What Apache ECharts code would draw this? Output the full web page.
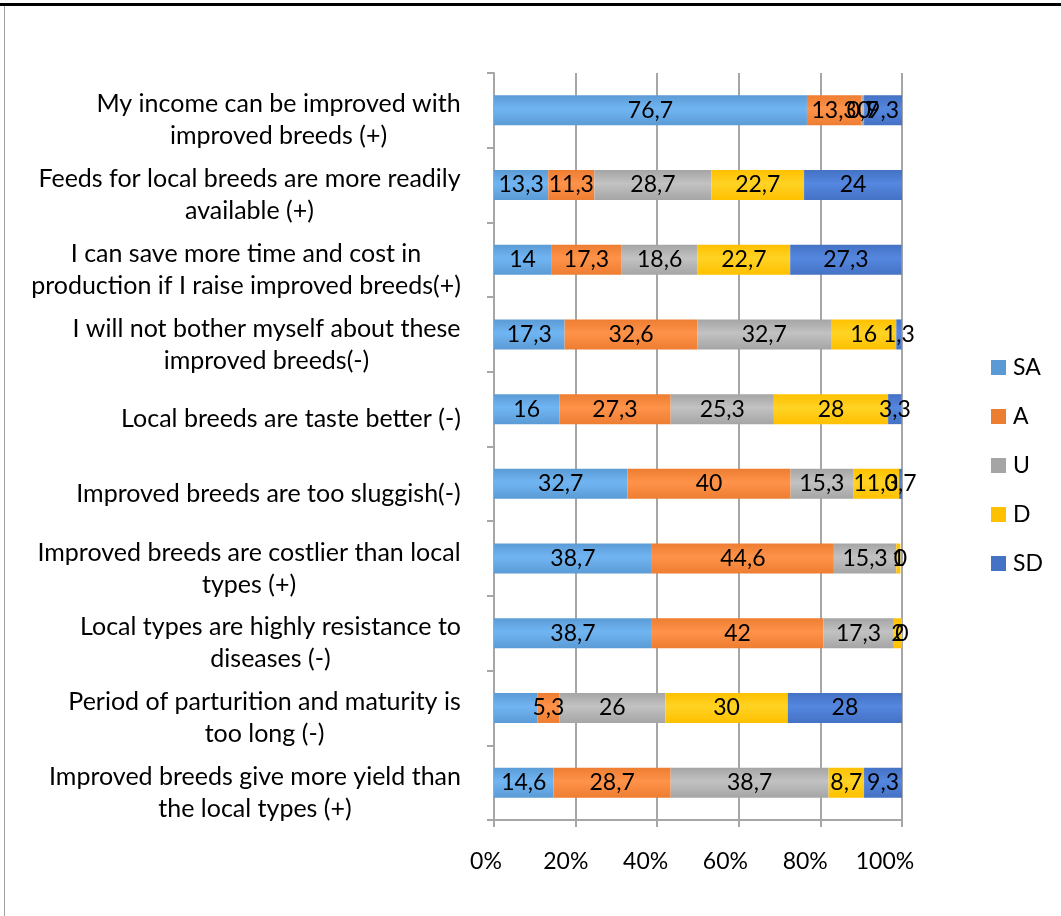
<!DOCTYPE html>
<html>
<head>
<meta charset="utf-8">
<script src="https://cdn.jsdelivr.net/npm/echarts@6/dist/echarts.min.js"></script>
<style>
  html, body { margin: 0; padding: 0; background: #fff; }
  #chart { width: 1061px; height: 916px; }
</style>
</head>
<body>
<div id="chart"></div>
<script>
// categories, top to bottom
var categories = [
  "My income can be improved with\nimproved breeds (+)",
  "Feeds for local breeds are more readily\navailable (+)",
  "I can save more time and cost in\nproduction if I raise improved breeds(+)",
  "I will not bother myself about these\nimproved breeds(-)",
  "Local breeds are taste better (-)",
  "Improved breeds are too sluggish(-)",
  "Improved breeds are costlier than local\ntypes (+)",
  "Local types are highly resistance to\ndiseases (-)",
  "Period of parturition and maturity is\ntoo long (-)",
  "Improved breeds give more yield than\nthe local types (+)"
];
var seriesNames = ["SA", "A", "U", "D", "SD"];
var SA = [76.7, 13.3, 14, 17.3, 16, 32.7, 38.7, 38.7, 10.7, 14.6];
var A  = [13.3, 11.3, 17.3, 32.6, 27.3, 40, 44.6, 42, 5.3, 28.7];
var U  = [0.7, 28.7, 18.6, 32.7, 25.3, 15.3, 15.3, 17.3, 26, 38.7];
var D  = [0, 22.7, 22.7, 16, 28, 11.3, 1, 2, 30, 8.7];
var SD = [9.3, 24, 27.3, 1.3, 3.3, 0.7, 0, 0, 28, 9.3];
var xTicks = [0, 20, 40, 60, 80, 100];
// [seriesIndex, categoryIndex] whose label is not printed in the original
var hiddenLabels = [[0, 8]];

var values = [SA, A, U, D, SD];
var baseColors = ["#5B9BD5", "#ED7D31", "#A5A5A5", "#FFC000", "#4472C4"];
var lightColors = ["#70B5F3", "#FF934A", "#C2C2C2", "#FFD324", "#5587E0"];
var FONT = "Lato, 'Open Sans', sans-serif";
var FS = 23;
var CAT_FS = 25;

// measure label blocks so each line can be centred inside a right-aligned block
var ctx = document.createElement("canvas").getContext("2d");
ctx.font = CAT_FS + "px Lato";
var rich = {};
categories.forEach(function (c, i) {
  var w = 0;
  c.split("\n").forEach(function (l) { w = Math.max(w, ctx.measureText(l).width); });
  rich["c" + i] = { width: Math.ceil(w) + 2, align: "center", fontSize: CAT_FS, lineHeight: 32, color: "#000", fontFamily: FONT };
});

// the percent labels sit on the front floor of the 3D chart, a little left of the bars
var tickRich = {};
xTicks.forEach(function (t, i) {
  var shift = 8 + 9 * i / (xTicks.length - 1);
  tickRich["t" + i] = { fontSize: FS, color: "#000", fontFamily: FONT, padding: [0, 2 * shift, 0, 0] };
});

var myChart = echarts.init(document.getElementById("chart"));

var series = seriesNames.map(function (name, s) {
  return {
    name: name,
    type: "bar",
    stack: "total",
    barWidth: 30,
    itemStyle: {
      color: new echarts.graphic.LinearGradient(0, 0, 0, 1, [
        { offset: 0, color: baseColors[s] },
        { offset: 0.45, color: lightColors[s] },
        { offset: 1, color: baseColors[s] }
      ])
    },
    label: {
      show: true,
      position: "inside",
      color: "#000",
      fontSize: FS,
      fontFamily: FONT,
      formatter: function (p) { return String(p.value).replace(".", ","); }
    },
    data: values[s].map(function (v, i) {
      var hide = hiddenLabels.some(function (h) { return h[0] === s && h[1] === i; });
      return hide ? { value: v, label: { show: false } } : v;
    })
  };
});

var option = {
  animation: false,
  textStyle: { fontFamily: FONT },
  grid: { left: 494, right: 159, top: 73, bottom: 96 },
  legend: {
    orient: "vertical",
    left: 986,
    top: 351,
    itemWidth: 15,
    itemHeight: 15,
    itemGap: 26,
    textStyle: { fontSize: FS, color: "#000", fontFamily: FONT, padding: [0, 0, 0, 2] },
    data: seriesNames.map(function (n, s) {
      return { name: n, icon: "rect", itemStyle: { color: baseColors[s] } };
    })
  },
  xAxis: {
    type: "value",
    min: xTicks[0],
    max: xTicks[xTicks.length - 1],
    interval: xTicks[1] - xTicks[0],
    axisLine: { show: true, lineStyle: { color: "#A6A6A6", width: 2 } },
    axisTick: { show: true, length: 7, lineStyle: { color: "#A6A6A6", width: 2 } },
    splitLine: { show: true, lineStyle: { color: "#A6A6A6", width: 2 } },
    axisLabel: {
      margin: 30,
      fontFamily: FONT,
      formatter: function (v) { return "{t" + xTicks.indexOf(v) + "|" + v + "%}"; },
      rich: tickRich
    }
  },
  yAxis: {
    type: "category",
    inverse: true,
    data: categories,
    axisLine: { show: true, lineStyle: { color: "#A6A6A6", width: 2 } },
    axisTick: { show: true, length: 7, lineStyle: { color: "#A6A6A6", width: 2 } },
    axisLabel: {
      margin: 32,
      padding: [20, 0, 0, 0],
      fontFamily: FONT,
      formatter: function (value, i) {
        return value.split("\n").map(function (l) { return "{c" + i + "|" + l + "}"; }).join("\n");
      },
      rich: rich
    }
  },
  graphic: [
    { type: "rect", shape: { x: 0, y: 3, width: 1061, height: 3 }, style: { fill: "#000" } },
    { type: "rect", shape: { x: 4, y: 6, width: 1, height: 910 }, style: { fill: "#A0A0A0" } }
  ],
  series: series
};

myChart.setOption(option);
</script>
</body>
</html>
